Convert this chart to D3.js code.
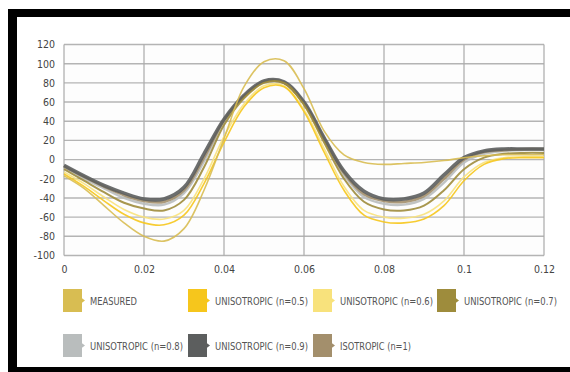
<!DOCTYPE html>
<html><head><meta charset="utf-8">
<script src="https://cdn.jsdelivr.net/npm/d3@7"></script>
<style>
body{margin:0;background:#fff;}
svg{display:block;}
text{font-family:"DejaVu Sans Condensed","Liberation Sans",sans-serif;}
</style></head>
<body><svg id="c" width="570" height="372"></svg>
<script>
const xValues = [0,0.005,0.01,0.015,0.02,0.025,0.03,0.035,0.04,0.045,0.05,0.055,0.06,0.065,0.07,0.075,0.08,0.085,0.09,0.095,0.1,0.105,0.11,0.115,0.12];
const measured = [-17,-30,-48,-66,-80,-85,-72,-32,22,76,102,103,74,30,5,-3,-5,-4,-3,-1,2,4,5,5,5];
const uniso05 = [-15,-28,-43,-57,-66,-68,-58,-25,18,55,75,76,50,8,-32,-58,-65,-66,-62,-48,-22,-5,1,2,2];
const uniso06 = [-13,-25,-39,-52,-60,-62,-53,-20,24,58,77,77,52,12,-28,-53,-60,-61,-57,-43,-18,-3,2,3,3];
const uniso07 = [-10,-22,-34,-45,-51,-53,-42,-8,36,64,80,80,57,18,-20,-44,-52,-53,-48,-32,-10,2,6,7,7];
const uniso08 = [-8,-20,-30,-40,-46,-47,-35,-2,40,66,81,80,58,20,-16,-39,-46,-47,-41,-24,-3,6,9,10,10];
const uniso09 = [-6,-17,-27,-35,-41,-41,-29,6,42,67,82,81,60,23,-12,-33,-41,-41,-35,-16,2,9,11,11,11];
const iso10 = [-7,-18,-28,-37,-43,-44,-32,2,41,66,81,80,59,22,-14,-36,-43,-44,-38,-20,0,8,10,11,11];
const seriesNames = ["MEASURED","UNISOTROPIC (n=0.5)","UNISOTROPIC (n=0.6)","UNISOTROPIC (n=0.7)","UNISOTROPIC (n=0.8)","UNISOTROPIC (n=0.9)","ISOTROPIC (n=1)"];
const seriesColors = ["#d8bd52","#f6c61c","#f8e27c","#9e8c3c","#b9bdbd","#5c5e5e","#a38f6c"];
const seriesWidths = [1.6,1.6,1.6,2,2.4,3.6,2.8];
const xTicks = [0,0.02,0.04,0.06,0.08,0.1,0.12];
const xTickLabels = ["0","0.02","0.04","0.06","0.08","0.1","0.12"];
const yTicks = [-100,-80,-60,-40,-20,0,20,40,60,80,100,120];

const allSeries = [measured,uniso05,uniso06,uniso07,uniso08,uniso09,iso10];
const svg = d3.select("#c");

// frame
svg.append("rect").attr("x",8).attr("y",9).attr("width",562).attr("height",8).attr("fill","#000");
svg.append("rect").attr("x",8).attr("y",9).attr("width",9).attr("height",363).attr("fill","#000");
svg.append("rect").attr("x",8).attr("y",367).attr("width",562).attr("height",5).attr("fill","#000");

const x = d3.scaleLinear().domain([0,0.12]).range([64,544]);
const y = d3.scaleLinear().domain([-100,120]).range([255.5,44.5]);

// plot bg
svg.append("rect").attr("x",64).attr("y",44.5).attr("width",480).attr("height",211).attr("fill","#fdfdfd");

// grid
svg.append("g").selectAll("line").data(yTicks).join("line")
  .attr("x1",64).attr("x2",544).attr("y1",d=>y(d)).attr("y2",d=>y(d))
  .attr("stroke","#b4b4b4").attr("stroke-width",1.4);
svg.append("g").selectAll("line").data(xTicks).join("line")
  .attr("y1",44.5).attr("y2",255.5).attr("x1",d=>x(d)).attr("x2",d=>x(d))
  .attr("stroke","#aaaaaa").attr("stroke-width",1.2);

// axes labels
const yAxis = d3.axisLeft(y).tickValues(yTicks).tickSize(0).tickPadding(9).tickFormat(d=>d);
const gy = svg.append("g").attr("transform","translate(64,0)").call(yAxis);
gy.select(".domain").remove();
gy.selectAll("text").attr("font-size",10.5).attr("fill","#444").style("font-family","'DejaVu Sans Condensed',sans-serif");
const xAxis = d3.axisBottom(x).tickValues(xTicks).tickSize(0).tickPadding(10).tickFormat((d,i)=>xTickLabels[i]);
const gx = svg.append("g").attr("transform","translate(0,256)").call(xAxis);
gx.select(".domain").remove();
gx.selectAll("text").attr("font-size",10.5).attr("fill","#444").style("font-family","'DejaVu Sans Condensed',sans-serif");

// lines
const line = d3.line().x((d,i)=>x(xValues[i])).y(d=>y(d)).curve(d3.curveCatmullRom.alpha(0.5));
const order = [4,6,5,3,2,1,0];
order.forEach(k=>{
  svg.append("path").datum(allSeries[k]).attr("d",line).attr("fill","none")
    .attr("stroke",seriesColors[k]).attr("stroke-width",seriesWidths[k]).attr("opacity",0.9);
});

// legend
const legPos = [[63,289],[188,289],[313,289],[437,289],[63,334],[188,334],[313,334]];
const legWidths = [47,93,93,93,93,93,71];
seriesNames.forEach((name,i)=>{
  const [lx,ly]=legPos[i];
  const w=19,h=23;
  svg.append("path")
    .attr("d",`M${lx},${ly}H${lx+w}V${ly+h*0.4}L${lx+w+3},${ly+h/2}L${lx+w},${ly+h*0.6}V${ly+h}H${lx}Z`)
    .attr("fill",seriesColors[i]);
  svg.append("text").attr("x",lx+27).attr("y",ly+h/2+4).attr("font-size",10.5).attr("fill","#555")
    .attr("textLength",legWidths[i]).attr("lengthAdjust","spacingAndGlyphs").text(name);
});
</script></body></html>
